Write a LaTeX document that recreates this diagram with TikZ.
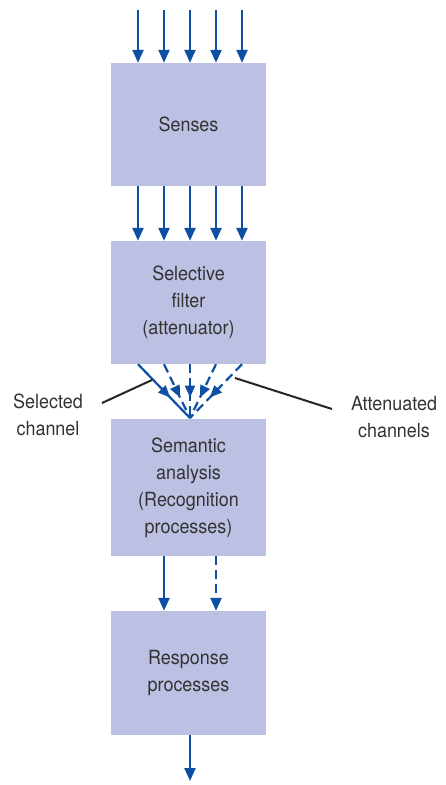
\documentclass[tikz,border=0pt]{standalone}
\usepackage{fontspec}
\setmainfont{TeX Gyre Heros}[FakeStretch=0.92]
\usetikzlibrary{positioning,arrows.meta,calc,decorations.markings}
\definecolor{boxfill}{HTML}{BCC0E2}
\definecolor{flowblue}{HTML}{0D4FA3}
\definecolor{txtgray}{HTML}{333333}
\tikzset{
  stage/.style={fill=boxfill,draw=none,minimum width=155pt,minimum height=123pt,
    align=center,font=\fontsize{19.5}{27}\selectfont,text=txtgray},
  flow/.style={-{Triangle[length=13pt,width=11pt]},line width=2.3pt,flowblue},
  dflow/.style={flow,dash pattern=on 9pt off 5pt},
  midflow/.style={line width=2.2pt,flowblue,
    postaction={decorate},decoration={markings,
      mark=at position 0.62 with {\arrow{Triangle[length=12pt,width=10pt]}}}}, % head part way
  leader/.style={line width=2pt,black!85},
  sidelbl/.style={align=center,font=\fontsize{19.5}{27}\selectfont,text=txtgray},
}
\begin{document}
\begin{tikzpicture}[x=1pt,y=-1pt]
  \useasboundingbox (0,0) rectangle (446,785);
  % stages
  \node[stage] (senses) at (188.5,124.5) {Senses};
  \node[stage] (filter) at (188.5,302.5) {Selective\\filter\\(attenuator)};
  \node[stage,minimum height=137pt] (semantic) at (188.5,487.5) {Semantic\\analysis\\(Recognition\\processes)};
  \node[stage,minimum height=124pt] (response) at (188.5,673) {Response\\processes};
  % input channels
  \foreach \i/\dx in {1/-52,2/-26,3/0,4/26,5/52} {
    \coordinate (in\i) at ($(190,10)+(\dx,0)$);
    \draw[flow] (in\i) -- (in\i |- senses.north);
    \draw[flow] (in\i |- senses.south) -- (in\i |- filter.north);
  }
  % fan into semantic analysis
  \coordinate (conv) at (190,418);
  \draw[midflow] (in1 |- filter.south) -- (conv);
  \foreach \i in {2,3,4,5}
    \draw[midflow,dash pattern=on 9pt off 5pt] (in\i |- filter.south) -- (conv);
  % labels with leader lines
  \node[sidelbl] (selected) at (48,415) {Selected\\channel};
  \node[sidelbl] (attenuated) at (394,417) {Attenuated\\channels};
  \coordinate (selend) at (152,380);
  \coordinate (attend) at (235,378);
  \draw[leader] (102,403) -- (selend);
  \draw[leader] (332,409) -- (attend);
  % output
  \coordinate (out1) at (164,0);
  \coordinate (out2) at (216,0);
  \draw[flow] (out1 |- semantic.south) -- (out1 |- response.north);
  \draw[dflow] (out2 |- semantic.south) -- (out2 |- response.north);
  \coordinate (final) at (190,781);
  \draw[flow] (final |- response.south) -- (final);
\end{tikzpicture}
\end{document}
